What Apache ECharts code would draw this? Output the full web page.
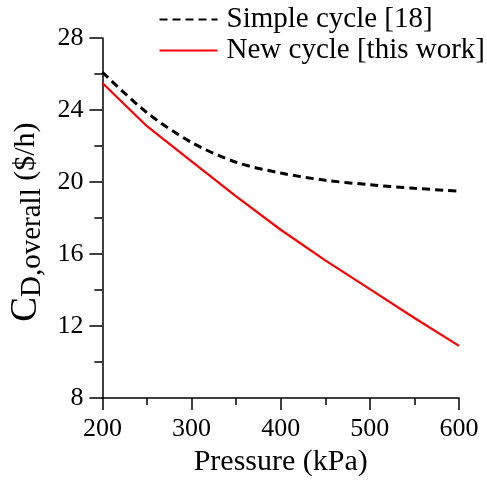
<!DOCTYPE html>
<html>
<head>
<meta charset="utf-8">
<script src="https://cdn.jsdelivr.net/npm/echarts@6/dist/echarts.min.js"></script>
<style>
  html, body { margin: 0; padding: 0; background: #fff; }
  #chart { width: 487px; height: 482px; }
</style>
</head>
<body>
<div id="chart"></div>
<script>
// data
const pressure = [200, 250, 300, 350, 400, 450, 500, 550, 600]
const simpleCycle = [26.1, 23.85, 22.2, 21.1, 20.5, 20.1, 19.85, 19.65, 19.5]
const newCycle = [25.5, 23.1, 21.15, 19.2, 17.35, 15.65, 14.05, 12.45, 10.9]
const seriesNames = ['Simple cycle [18]', 'New cycle [this work]']

const serif = "'Liberation Serif', 'Times New Roman', serif"

const pairs = (ys) => pressure.map((x, i) => [x, ys[i]])

const chart = echarts.init(document.getElementById('chart'))

// shared axis look
const axisBase = {
  type: 'value',
  axisLine: { show: true, lineStyle: { color: '#000', width: 1.5 } },
  splitLine: { show: false },
  axisLabel: { color: '#000', fontFamily: serif, fontSize: 26 },
  nameTextStyle: { color: '#000', fontFamily: serif, fontSize: 30 }
}

chart.setOption({
  animation: false,
  backgroundColor: '#fff',
  grid: { left: 97, right: 28, top: 38, bottom: 83 },
  legend: {
    orient: 'vertical',
    right: -3,
    top: 0,
    itemWidth: 58,
    itemHeight: 12,
    itemGap: 2,
    itemStyle: { opacity: 0 },
    textStyle: { color: '#000', fontFamily: serif, fontSize: 29, padding: [0, 0, 0, 4] },
    data: seriesNames
  },
  xAxis: {
    ...axisBase,
    min: 200,
    max: 600,
    interval: 100,
    name: 'Pressure (kPa)',
    nameLocation: 'middle',
    nameGap: 48,
    axisTick: { show: true, length: 12, lineStyle: { color: '#000', width: 1.5 } },
    minorTick: { show: true, splitNumber: 2, length: 7, lineStyle: { color: '#000', width: 1.5 } },
    axisLabel: { ...axisBase.axisLabel, margin: 18 }
  },
  yAxis: {
    ...axisBase,
    min: 8,
    max: 28,
    interval: 4,
    name: '{c|C}{s|D,overall}{u| ($/h)}',
    nameLocation: 'middle',
    nameGap: 52,
    nameTextStyle: {
      ...axisBase.nameTextStyle,
      padding: [0, 8, 0, 0],
      rich: {
        c: { fontFamily: serif, fontSize: 37, lineHeight: 40, color: '#000' },
        s: { fontFamily: serif, fontSize: 29, lineHeight: 26, verticalAlign: 'bottom', color: '#000' },
        u: { fontFamily: serif, fontSize: 30, color: '#000' }
      }
    },
    axisTick: { show: true, length: 13, lineStyle: { color: '#000', width: 1.5 } },
    minorTick: { show: true, splitNumber: 2, length: 8, lineStyle: { color: '#000', width: 1.5 } },
    axisLabel: { ...axisBase.axisLabel, margin: 19 }
  },
  series: [
    {
      name: seriesNames[0],
      type: 'line',
      data: pairs(simpleCycle),
      symbol: 'none',
      smooth: 0.3,
      lineStyle: { color: '#000', width: 3, type: [8, 5] },
      itemStyle: { color: '#000' }
    },
    {
      name: seriesNames[1],
      type: 'line',
      data: pairs(newCycle),
      symbol: 'none',
      lineStyle: { color: '#ff0000', width: 2.2 },
      itemStyle: { color: '#ff0000' }
    }
  ]
})
</script>
</body>
</html>
